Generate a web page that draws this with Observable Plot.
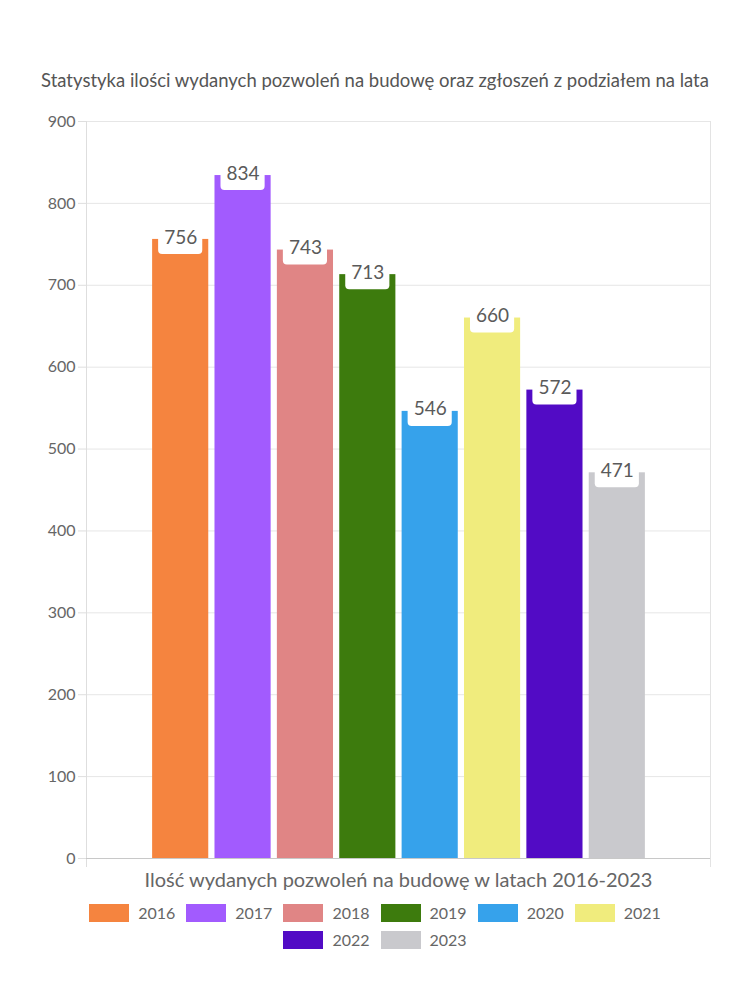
<!DOCTYPE html>
<html>
<head>
<meta charset="utf-8">
<script src="https://cdn.jsdelivr.net/npm/d3@7"></script>
<script src="https://cdn.jsdelivr.net/npm/@observablehq/plot@0.6"></script>
<style>
  body { margin: 0; background: #fff; font-family: Lato, "Noto Sans", sans-serif; }
  #wrap { width: 750px; }
  #title { padding-top: 68px; height: 24px; line-height: 24px; text-align: center; font-size: 18.5px; color: #555; white-space: nowrap; }
  #chart svg { display: block; }
  #legend { margin-top: 9px; }
  .leg-swatches { justify-content: center !important; width: 640px; margin: 0 auto !important; column-gap: 11px; row-gap: 8px; min-height: 0 !important; font-size: 16px; color: #666; font-family: Lato, "Noto Sans", sans-serif; }
  .leg-swatch { margin-right: 0 !important; }
  .leg-swatch > svg { margin-right: 9px !important; }
</style>
</head>
<body>
<div id="wrap">
  <div id="title"></div>
  <div id="chart"></div>
  <div id="legend"></div>
</div>
<script>
const title = "Statystyka ilości wydanych pozwoleń na budowę oraz zgłoszeń z podziałem na lata";
const xLabel = "Ilość wydanych pozwoleń na budowę w latach 2016-2023";
const years = ["2016", "2017", "2018", "2019", "2020", "2021", "2022", "2023"];
const permits = [756, 834, 743, 713, 546, 660, 572, 471];
const colors = ["#F5843F", "#A25BFE", "#E08585", "#3D7B0D", "#36A2EB", "#F0EC7D", "#520BC5", "#C9C9CD"];
const yTicks = [0, 100, 200, 300, 400, 500, 600, 700, 800, 900];

const data = years.map((y, i) => ({year: y, value: permits[i]}));

document.getElementById("title").textContent = title;

const colorScale = {type: "ordinal", domain: years, range: colors};

const chart = Plot.plot({
  width: 750,
  height: 802,
  marginTop: 29,
  marginLeft: 86,
  marginRight: 40,
  marginBottom: 36,
  style: {fontFamily: "Lato, 'Noto Sans', sans-serif", background: "white"},
  x: {type: "band", domain: years, range: [149, 648], paddingInner: 0.1, paddingOuter: 0.05, round: false, axis: null},
  y: {domain: [0, 900], axis: null},
  color: colorScale,
  marks: [
    Plot.gridY(yTicks, {stroke: "#e6e6e6", strokeOpacity: 1}),
    Plot.frame({anchor: "left", stroke: "#dedede", insetBottom: -8}),
    Plot.frame({anchor: "right", stroke: "#e3e3e3", insetBottom: -8}),
    Plot.axisY(yTicks, {tickSize: 8, tickPadding: 3, stroke: "#dedede", fill: "#666", fontSize: 16, label: null}),
    Plot.barY(data, {x: "year", y: "value", fill: "year"}),
    Plot.ruleY([0], {stroke: "#c8c8c8"}),
    Plot.barY(data, {x: "year", y1: "value", y2: "value", fill: "white", insetLeft: 6, insetRight: 6, insetTop: -6, insetBottom: -15, rx: 4}),
    Plot.text(data, {x: "year", y: "value", text: d => String(d.value), dy: -2, fill: "#5a5a5a", fontSize: 19}),
    Plot.text([xLabel], {frameAnchor: "bottom", lineAnchor: "middle", dy: 22, fill: "#666", fontSize: 20})
  ]
});
document.getElementById("chart").appendChild(chart);

const legend = Plot.legend({
  color: colorScale,
  legend: "swatches",
  swatchWidth: 40,
  swatchHeight: 18,
  className: "leg"
});
document.getElementById("legend").appendChild(legend);
</script>
</body>
</html>
